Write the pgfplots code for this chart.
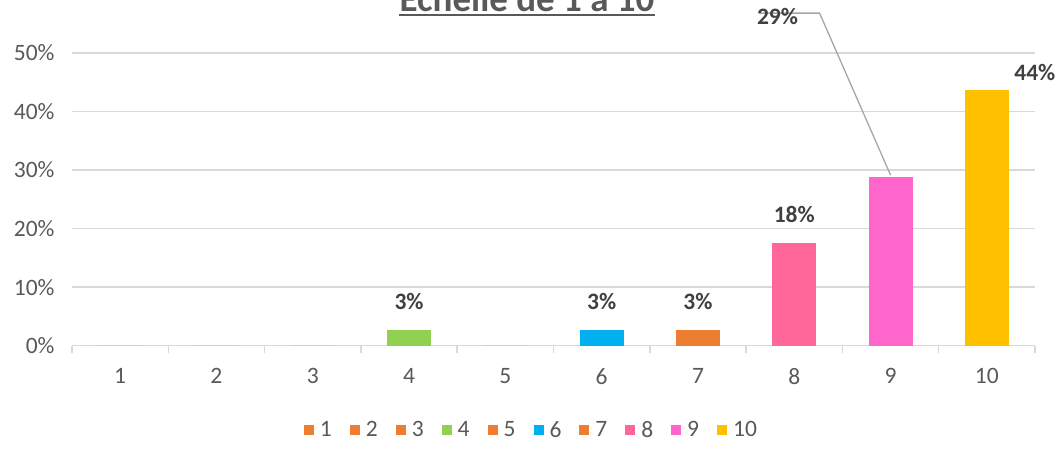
\documentclass[border=0pt]{standalone}
\usepackage{fontspec}
\setmainfont{Carlito}
\usepackage{pgfplots}
\pgfplotsset{compat=1.18}
\definecolor{gridc}{HTML}{D9D9D9}
\definecolor{txt}{HTML}{595959}
\definecolor{lbl}{HTML}{404040}
\definecolor{lead}{HTML}{A6A6A6}
\definecolor{c1}{HTML}{ED7D31}
\definecolor{c4}{HTML}{92D050}
\definecolor{c6}{HTML}{00B0F0}
\definecolor{c8}{HTML}{FF6699}
\definecolor{c9}{HTML}{FF66CC}
\definecolor{c10}{HTML}{FFC000}
\begin{document}
\begin{tikzpicture}
\begin{axis}[
  at={(0,0)}, anchor=south west,
  scale only axis, width=963pt, height=292.7pt,
  xmin=0.5, xmax=10.5, ymin=0, ymax=50,
  clip=false,
  axis x line*=bottom,
  axis y line*=left,
  y axis line style={draw=none},
  x axis line style={gridc, line width=1.5pt, -},
  ymajorgrids, grid style={gridc, line width=1.5pt},
  ytick={0,10,20,30,40,50},
  yticklabels={0\%,10\%,20\%,30\%,40\%,50\%},
  yticklabel style={font=\fontsize{23.5}{28}\selectfont, text=txt, xshift=-14pt},
  xtick={1,...,10},
  xticklabels={1,2,3,4,5,6,7,8,9,10},
  major tick length=0pt,
  minor xtick={0.5,1.5,...,10.5},
  minor tick length=7pt,
  tick align=outside,
  minor tick style={gridc, line width=1.5pt},
  xticklabel style={font=\fontsize{23.5}{28}\selectfont, text=txt, yshift=-19pt},
  /pgf/number format/assume math mode=true,
  legend columns=10,
  legend style={at={(0.4766,-0.288)}, anchor=center, draw=none, fill=none,
    font=\fontsize{23.5}{28}\selectfont, text=txt, inner sep=0pt,
    nodes={inner sep=1pt},
    /tikz/every odd column/.append style={column sep=5pt},
    /tikz/every even column/.append style={column sep=17pt}},
  legend image code/.code={\fill[#1] (0pt,-5pt) rectangle (10pt,5pt);},
  every axis plot/.append style={ybar, bar width=44pt, bar shift=0pt, draw=none},
  every node near coord/.append style={font=\fontsize{23.5}{28}\selectfont\bfseries, text=lbl, anchor=center},
]
\addplot[fill=c1] coordinates {(1,0)};
\addlegendentry{1}
\addplot[fill=c1] coordinates {(2,0)};
\addlegendentry{2}
\addplot[fill=c1] coordinates {(3,0)};
\addlegendentry{3}
\addplot[fill=c4, nodes near coords={\pgfmathprintnumber[fixed,precision=0]{\pgfplotspointmeta}\%}, every node near coord/.append style={yshift=28pt}] coordinates {(4,2.7)};
\addlegendentry{4}
\addplot[fill=c1] coordinates {(5,0)};
\addlegendentry{5}
\addplot[fill=c6, nodes near coords={\pgfmathprintnumber[fixed,precision=0]{\pgfplotspointmeta}\%}, every node near coord/.append style={yshift=28pt}] coordinates {(6,2.7)};
\addlegendentry{6}
\addplot[fill=c1, nodes near coords={\pgfmathprintnumber[fixed,precision=0]{\pgfplotspointmeta}\%}, every node near coord/.append style={yshift=28pt}] coordinates {(7,2.7)};
\addlegendentry{7}
\addplot[fill=c8, nodes near coords={\pgfmathprintnumber[fixed,precision=0]{\pgfplotspointmeta}\%}, every node near coord/.append style={yshift=28pt}] coordinates {(8,17.6)};
\addlegendentry{8}
\addplot[fill=c9, nodes near coords={\pgfmathprintnumber[fixed,precision=0]{\pgfplotspointmeta}\%}, every node near coord/.append style={xshift=-113pt, yshift=161pt}] coordinates {(9,28.8)};
\addlegendentry{9}
\addplot[fill=c10, nodes near coords={\pgfmathprintnumber[fixed,precision=0]{\pgfplotspointmeta}\%}, every node near coord/.append style={xshift=48pt, yshift=17pt}] coordinates {(10,43.7)};
\addlegendentry{10}
\draw[lead, line width=1.3pt] ([yshift=2pt]axis cs:9,28.8) -- ([xshift=-71pt,yshift=164pt]axis cs:9,28.8) -- ++(-12pt,0);
\end{axis}
\node[anchor=base, text=txt, font=\fontsize{37}{40}\selectfont\bfseries, inner sep=0pt] (t) at (455pt,334pt) {Echelle de 1 à 10};
\draw[txt, line width=2.5pt] ([yshift=-3.5pt]t.base west) -- ([yshift=-3.5pt]t.base east);
\pgfresetboundingbox
\useasboundingbox (-72pt,-104.3pt) rectangle (991pt,345.7pt);
\end{tikzpicture}
\end{document}
